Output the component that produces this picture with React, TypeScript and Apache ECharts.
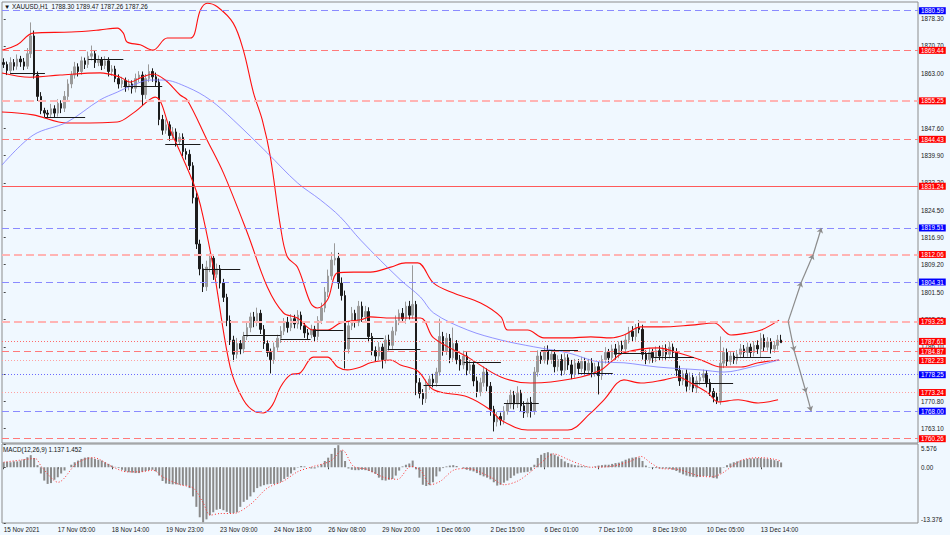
import { useEffect, useRef } from 'react';
import * as echarts from 'echarts';

// XAUUSD, one bar per two hours
const firstOpen = 1866.0;
const closes = [
  1865.5, 1863.8, 1866.0, 1865.0, 1867.0, 1866.2, 1865.0, 1868.5, 1873.5, 1862.5,
  1856.5, 1852.5, 1851.8, 1851.5, 1853.0, 1851.8, 1854.5, 1853.2, 1856.5, 1860.0,
  1862.5, 1864.8, 1863.5, 1866.5, 1865.5, 1867.8, 1868.5, 1866.0, 1866.8, 1865.2,
  1866.5, 1863.5, 1864.2, 1861.5, 1860.0, 1861.0, 1859.2, 1860.0, 1858.8, 1861.5,
  1862.5, 1857.0, 1861.5, 1863.5, 1862.0, 1860.5, 1850.0, 1847.0, 1848.5, 1845.5,
  1846.5, 1843.8, 1845.0, 1841.0, 1840.2, 1837.0, 1828.0, 1815.0, 1808.0, 1803.0,
  1808.5, 1811.0, 1806.5, 1808.0, 1804.0, 1800.0, 1793.5, 1788.0, 1784.0, 1787.0,
  1785.5, 1789.0, 1791.5, 1794.5, 1793.0, 1795.5, 1791.0, 1787.0, 1784.5, 1782.5,
  1786.0, 1788.5, 1790.5, 1793.0, 1791.5, 1794.0, 1792.5, 1795.0, 1792.0, 1790.0,
  1789.5, 1791.0, 1789.0, 1793.5, 1797.0, 1801.5, 1806.0, 1810.5, 1811.0, 1804.0,
  1800.5, 1785.5, 1792.0, 1795.5, 1793.0, 1797.5, 1794.5, 1796.0, 1789.0, 1785.0,
  1783.5, 1786.0, 1782.5, 1788.0, 1786.5, 1790.5, 1793.5, 1795.5, 1794.0, 1797.5,
  1795.0, 1798.0, 1776.0, 1773.0, 1771.5, 1775.5, 1777.0, 1776.0, 1779.0, 1789.0,
  1785.0, 1788.5, 1783.0, 1787.0, 1782.5, 1781.0, 1783.5, 1779.5, 1781.0, 1776.5,
  1773.5, 1776.0, 1779.0, 1775.0, 1768.5, 1765.0, 1766.5, 1765.5, 1768.0, 1770.0,
  1772.5, 1770.0, 1773.0, 1769.5, 1767.5, 1770.5, 1768.0, 1779.0, 1783.5, 1782.5,
  1785.0, 1782.5, 1784.0, 1780.5, 1782.5, 1779.5, 1783.0, 1781.0, 1778.5, 1781.5,
  1780.0, 1782.0, 1779.5, 1781.5, 1779.0, 1780.5, 1778.0, 1782.5, 1784.5, 1783.0,
  1785.5, 1784.0, 1786.5, 1785.5, 1788.0, 1790.5, 1789.0, 1791.5, 1791.0, 1784.0,
  1782.5, 1784.5, 1783.0, 1785.0, 1783.5, 1785.5, 1784.0, 1786.0, 1784.5, 1779.5,
  1776.5, 1778.5, 1775.0, 1777.5, 1774.5, 1776.5, 1777.5, 1778.5, 1776.0, 1773.5,
  1772.0, 1771.0, 1781.5, 1784.5, 1782.0, 1783.5, 1782.5, 1784.0, 1785.5, 1784.5,
  1786.0, 1784.5, 1786.5, 1785.5, 1788.5, 1786.0, 1787.5, 1785.5, 1786.5, 1788.0, 1787.26,
];
// wick lengths above / below the body
const wickUp = [
  1.2, 0.8, 1.5, 1.0, 1.3, 0.9, 1.1, 1.6, 3.8, 1.5,
  1.0, 1.2, 0.8, 0.9, 1.4, 1.0, 1.2, 0.9, 1.5, 1.3,
  1.1, 1.4, 1.0, 1.2, 0.9, 1.3, 2.3, 1.0, 1.2, 0.8,
  1.3, 1.0, 1.1, 0.9, 1.2, 1.0, 0.8, 1.3, 1.0, 1.4,
  1.1, 1.0, 1.3, 2.0, 0.9, 1.2, 1.0, 1.3, 1.5, 1.0,
  1.4, 1.0, 1.2, 1.1, 0.9, 1.3, 1.0, 1.5, 1.2, 1.4,
  1.8, 1.3, 1.0, 1.5, 1.1, 1.2, 1.0, 1.4, 1.2, 1.6,
  1.0, 1.3, 1.5, 1.2, 1.4, 1.6, 1.0, 1.2, 0.9, 1.1,
  1.3, 1.0, 1.4, 1.2, 1.5, 1.3, 1.1, 1.4, 1.0, 1.2,
  1.1, 1.3, 1.0, 1.2, 1.5, 1.4, 1.8, 2.2, 4.2, 1.5,
  1.6, 1.4, 1.2, 1.8, 1.0, 1.5, 1.3, 1.6, 1.2, 1.0,
  1.2, 1.4, 1.0, 1.3, 1.5, 1.2, 1.4, 1.1, 1.5, 1.3,
  1.5, 11.0, 1.0, 1.3, 1.2, 1.4, 1.0, 1.5, 1.2, 5.0,
  1.3, 1.5, 1.2, 4.5, 1.0, 1.3, 1.5, 1.1, 1.4, 1.0,
  1.2, 1.4, 1.6, 1.0, 1.2, 1.0, 1.3, 1.1, 1.4, 1.2,
  1.5, 1.2, 2.0, 1.0, 1.3, 1.1, 1.5, 1.4, 1.6, 1.2,
  1.3, 1.5, 1.1, 1.4, 1.2, 1.5, 1.3, 1.0, 1.4, 1.2,
  1.1, 1.3, 1.0, 1.2, 1.4, 1.1, 1.3, 1.2, 1.5, 1.0,
  1.2, 1.4, 1.1, 1.3, 1.5, 1.2, 1.4, 1.0, 2.0, 1.3,
  1.1, 1.3, 1.0, 1.2, 1.4, 1.1, 1.3, 1.5, 1.0, 1.2,
  1.3, 1.0, 1.2, 1.4, 1.1, 1.3, 1.5, 1.2, 1.0, 1.1,
  1.0, 1.2, 7.5, 1.4, 1.1, 1.3, 1.0, 1.2, 1.4, 1.1,
  1.3, 1.0, 1.2, 1.4, 1.5, 1.1, 1.3, 1.0, 1.2, 1.4, 1.47,
];
const wickDown = [
  1.0, 1.3, 0.9, 1.2, 1.0, 1.4, 1.1, 0.8, 1.2, 1.0,
  1.3, 1.0, 1.2, 1.2, 0.9, 1.3, 1.0, 1.4, 1.1, 1.0,
  1.2, 1.0, 1.4, 0.9, 1.3, 1.0, 1.2, 1.5, 1.0, 1.3,
  1.0, 1.4, 1.2, 1.0, 1.3, 1.1, 1.4, 1.0, 1.5, 1.2,
  1.0, 3.2, 1.2, 1.0, 1.4, 1.1, 1.6, 1.3, 1.0, 1.5,
  1.2, 1.4, 1.0, 1.3, 1.5, 1.2, 1.6, 1.4, 1.8, 1.5,
  1.2, 1.4, 1.6, 1.0, 1.5, 1.3, 1.6, 1.4, 2.0, 1.2,
  1.5, 1.2, 1.0, 1.3, 1.4, 1.1, 1.3, 1.5, 1.2, 3.9,
  1.2, 1.0, 1.3, 1.1, 1.4, 1.0, 1.2, 1.3, 1.1, 1.4,
  1.2, 1.0, 1.3, 1.1, 1.0, 1.2, 1.4, 1.1, 1.5, 1.6,
  1.4, 5.5, 1.3, 1.2, 1.5, 1.1, 1.4, 1.2, 1.6, 1.3,
  1.5, 1.2, 2.5, 1.1, 1.4, 1.0, 1.2, 1.3, 1.1, 1.4,
  1.2, 1.0, 3.5, 1.4, 1.7, 1.2, 1.5, 1.3, 1.1, 1.0,
  1.4, 1.2, 1.5, 1.1, 1.3, 1.6, 1.2, 1.4, 1.0, 1.5,
  1.6, 1.3, 1.1, 1.4, 1.8, 2.7, 1.3, 1.5, 1.2, 1.0,
  1.3, 1.5, 1.1, 1.6, 1.4, 1.2, 1.8, 1.0, 1.3, 1.2,
  1.1, 1.4, 1.2, 1.6, 1.3, 1.5, 1.2, 1.4, 1.5, 1.1,
  1.3, 1.1, 1.4, 1.2, 1.5, 1.3, 5.3, 1.2, 1.1, 1.4,
  1.2, 1.5, 1.1, 1.3, 1.2, 1.0, 1.4, 1.2, 1.1, 1.5,
  1.3, 1.1, 1.4, 1.2, 1.3, 1.1, 1.5, 1.2, 1.3, 1.6,
  1.4, 1.2, 1.5, 1.1, 1.3, 1.4, 1.2, 1.1, 1.3, 1.2,
  1.5, 1.0, 1.2, 1.4, 1.3, 1.1, 1.2, 1.3, 1.1, 1.4,
  1.2, 1.3, 1.1, 1.4, 2.5, 1.2, 1.0, 1.3, 1.1, 1.2, 0.0,
];
const lastBar = [1788.3, 1789.47, 1787.26, 1787.26];

// MACD(12,26,9) main line, drawn as histogram
const macdHist = [
  1.2, 1.3, 1.2, 1.4, 1.4, 1.6, 1.9, 2.4, 2.9, 2.2,
  0.5, -1.5, -3.2, -4.0, -3.8, -3.0, -2.4, -1.5, -0.8, 0.0,
  0.6, 1.2, 1.6, 2.0, 2.3, 2.4, 2.3, 2.0, 1.8, 1.6,
  1.2, 0.8, 0.4, 0.1, -0.2, -0.6, -1.0, -1.2, -1.3, -1.4,
  -1.4, -1.1, -0.9, -0.7, -0.6, -1.0, -2.0, -3.3, -3.9, -4.0,
  -4.1, -4.1, -4.2, -4.3, -4.4, -5.0, -7.0, -9.5, -12.0, -13.2,
  -12.5, -11.5, -10.8, -10.2, -10.0, -10.3, -10.7, -11.0, -11.0, -10.8,
  -9.5, -8.3, -7.8, -7.0, -6.0, -5.0, -4.6, -4.3, -4.1, -4.0,
  -4.0, -3.9, -3.5, -2.8, -2.3, -1.5, -0.7, -0.1, 0.3, 0.2,
  0.0, -0.3, -0.3, 0.2, 0.7, 1.5, 2.3, 3.2, 4.6, 5.3,
  4.0, 1.5, -0.3, -0.6, -0.7, -0.7, -0.6, -0.7, -0.9, -1.2,
  -1.6, -2.5, -3.1, -3.2, -3.0, -2.8, -2.0, -0.8, 0.2, 0.6,
  0.9, 1.6, -0.5, -2.5, -4.2, -4.5, -4.3, -3.6, -2.2, -1.0,
  -0.2, 0.2, 0.4, 0.5, 0.3, 0.0, -0.3, -0.6, -0.8, -1.0,
  -1.4, -1.9, -2.2, -2.5, -2.9, -3.6, -4.4, -4.2, -3.7, -3.2,
  -2.6, -2.0, -1.5, -1.3, -1.2, -1.1, -0.8, 0.6, 2.2, 3.0,
  3.4, 3.6, 3.3, 3.0, 2.6, 2.0, 1.4, 1.0, 0.7, 0.5,
  0.4, 0.3, 0.2, 0.1, 0.0, 0.2, 0.4, 0.5, 0.6, 0.6,
  0.8, 1.0, 1.1, 1.4, 1.8, 2.1, 2.3, 2.4, 2.3, 1.5,
  0.4, -0.1, -0.2, -0.2, -0.3, -0.3, -0.3, -0.4, -0.6, -0.9,
  -1.3, -1.7, -2.0, -2.2, -2.3, -2.4, -2.3, -2.1, -2.1, -2.3,
  -2.6, -2.7, -1.5, -0.1, 0.5, 0.9, 1.2, 1.4, 1.6, 1.8,
  2.0, 2.1, 2.1, 2.2, 2.2, 2.1, 2.0, 1.9, 1.7, 1.5, 1.137,
];
const macdLast = [1.137, 1.452];
// signal line as [bar index, value]
const macdSignal = [
  [0, 1.2], [4.8, 1.7], [9.3, 2.1], [11.3, 0.0], [16.1, -3.6], [21.7, 1.0], [26.5, 2.3],
  [32.4, 0.0], [36.5, -1.1], [40.4, -1.1], [44.2, -0.7], [47.2, -2.4], [52.2, -4.2],
  [56.1, -5.0], [59.0, -8.5], [61.1, -11.5], [64.1, -11.1], [67.9, -11.1], [73.0, -8.9],
  [78.0, -5.0], [82.8, -3.3], [86.9, -1.1], [90.8, 0.0], [96.7, 1.5], [100.2, 4.1],
  [103.5, 0.2], [107.6, -0.5], [112.4, -2.4], [116.5, -2.9], [120.4, 0.2], [123.3, -0.7],
  [126.3, -4.2], [129.3, -3.3], [133.1, -0.7], [137.3, -0.3], [144.1, -2.4], [148.0, -4.2],
  [152.1, -3.3], [155.9, -1.1], [158.9, 1.0], [162.7, 3.2], [166.9, 1.9], [170.8, 0.6],
  [173.7, 0.0], [179.6, 0.2], [185.6, 1.5], [188.5, 2.6], [191.5, 1.0], [194.5, -0.3],
  [199.5, -0.5], [205.4, -2.0], [209.3, -2.3], [212.2, -1.6], [216.1, 0.6], [219.0, 1.9],
  [224.1, 2.3], [228.1, 1.9], [230.0, 1.452],
];

// Bollinger bands and the long moving average, [bar index, price]
const bbUpper = [
  [-0.5, 1869.5], [4, 1871.0], [8.7, 1874.3], [20, 1874.6], [28.5, 1875.2], [33.6, 1875.7],
  [35.4, 1874.3], [36.5, 1871.8], [40.4, 1871.0], [44.2, 1869.5], [48.4, 1872.9], [55.2, 1872.9],
  [58.2, 1880.8], [60.2, 1882.7], [63.2, 1881.7], [67.9, 1877.1], [70.9, 1869.5], [73.9, 1857.5],
  [76.5, 1849.9], [78.9, 1839.5], [81.9, 1819.8], [83.9, 1811.4], [86.9, 1808.5], [90.8, 1798.4],
  [92.8, 1797.0], [95.8, 1799.3], [98.8, 1806.9], [103.5, 1807.1], [108.5, 1807.1], [114.5, 1808.5],
  [118.9, 1809.7], [122.5, 1809.7], [127.2, 1804.0], [133.1, 1801.2], [141.1, 1798.4], [147.1, 1794.5],
  [149.1, 1790.8], [155.0, 1790.8], [159.8, 1788.6], [166.9, 1788.6], [173.7, 1788.9], [179.6, 1788.6],
  [183.5, 1789.4], [188.5, 1791.7], [194.5, 1791.7], [203.3, 1792.2], [210.2, 1792.8], [215.2, 1789.4],
  [220.2, 1790.0], [224.1, 1790.8], [229.4, 1793.6],
];
const bbMiddle = [
  [-0.5, 1863.1], [7.8, 1861.9], [16.7, 1862.5], [28.5, 1863.1], [34.5, 1861.9], [37.4, 1860.5],
  [40.4, 1861.7], [44.2, 1862.8], [47.8, 1861.1], [52.2, 1856.9], [54.3, 1855.5], [60.2, 1844.2],
  [65.0, 1835.0], [72.1, 1818.1], [78.0, 1802.9], [82.8, 1795.6], [86.9, 1794.2], [91.6, 1790.8],
  [95.8, 1790.8], [99.6, 1792.8], [105.6, 1793.7], [108.5, 1794.5], [114.5, 1794.2], [123.3, 1794.2],
  [127.2, 1788.6], [137.3, 1783.2], [147.1, 1777.6], [155.9, 1775.9], [161.9, 1776.2], [170.8, 1777.6],
  [176.7, 1779.6], [179.6, 1781.8], [183.5, 1784.4], [193.6, 1785.8], [199.5, 1784.4], [206.3, 1782.4],
  [212.2, 1780.4], [218.2, 1780.4], [223.2, 1781.6], [229.4, 1782.4],
];
const bbLower = [
  [-0.5, 1852.1], [8.7, 1851.3], [18.8, 1849.0], [33.6, 1849.3], [38.3, 1851.8], [44.8, 1856.3],
  [49.3, 1847.0], [56.1, 1832.2], [58.2, 1825.9], [62.0, 1808.5], [67.0, 1780.4], [70.9, 1771.2],
  [74.5, 1767.8], [76.8, 1767.5], [79.5, 1769.7], [81.9, 1774.8], [84.8, 1778.2], [87.8, 1778.8],
  [91.6, 1783.2], [95.8, 1783.2], [98.8, 1780.4], [101.7, 1779.6], [105.6, 1780.4], [108.5, 1781.6],
  [114.5, 1782.4], [117.4, 1781.0], [122.5, 1779.3], [127.2, 1774.0], [137.3, 1772.0], [144.1, 1768.3],
  [147.1, 1765.5], [155.0, 1762.7], [166.9, 1762.7], [173.7, 1767.5], [177.6, 1771.2], [183.5, 1776.8],
  [188.5, 1775.9], [195.4, 1776.8], [199.5, 1777.6], [203.3, 1775.9], [208.4, 1773.1], [211.4, 1770.6],
  [217.3, 1771.2], [223.2, 1770.3], [229.1, 1771.2],
];
const maLong = [
  [-0.5, 1837.2], [8.7, 1845.6], [18.8, 1849.3], [28.5, 1855.5], [33.6, 1857.7], [38.3, 1859.7],
  [43.3, 1861.1], [47.2, 1861.1], [54.3, 1859.1], [61.1, 1855.5], [67.9, 1849.9], [78.0, 1840.6],
  [86.9, 1832.2], [93.7, 1827.4], [99.6, 1822.6], [105.6, 1816.1], [117.4, 1804.9], [123.3, 1800.1],
  [127.2, 1795.6], [137.3, 1790.8], [147.1, 1788.0], [156.8, 1786.1], [166.9, 1784.4], [176.7, 1781.8],
  [183.5, 1781.6], [193.6, 1780.4], [206.3, 1779.6], [213.1, 1779.0], [221.1, 1780.4], [229.4, 1782.4],
];

// daily open segments: [from bar, to bar, price]
const dayOpens = [
  [1.9, 12.2, 1863.1], [12.2, 24.1, 1850.7], [25.0, 35.4, 1867.0], [35.4, 46.9, 1859.4],
  [47.8, 58.2, 1843.1], [59.0, 70.0, 1807.9], [70.9, 81.9, 1789.4], [81.9, 90.8, 1788.3],
  [91.6, 100.5, 1790.8], [101.7, 112.4, 1788.6], [113.6, 123.3, 1785.5], [124.2, 135.2, 1775.4],
  [136.1, 147.1, 1781.8], [148.0, 158.3, 1770.3], [158.9, 169.9, 1785.2], [169.9, 180.2, 1778.8],
  [180.5, 192.4, 1784.4], [192.4, 204.2, 1783.2], [204.2, 215.8, 1775.9], [216.1, 227.0, 1783.2],
];

// projected paths
const projUp = [[232.1, 1793.25], [236.0, 1804.31], [239.5, 1812.06], [241.9, 1819.51]];
const projDown = [[232.1, 1793.25], [233.9, 1784.87], [237.4, 1773.24], [238.9, 1768.0]];

// horizontal levels
const levels = [1880.59, 1869.44, 1855.25, 1844.43, 1831.24, 1819.51, 1812.06, 1804.31,
  1793.25, 1787.61, 1784.87, 1782.23, 1778.25, 1773.24, 1768.0, 1760.26];
const levelKinds = ['blueDash', 'redDash', 'pinkDash', 'redDash', 'redSolid', 'blueDash', 'pinkDash', 'blueDash',
  'pinkDash', 'redDot', 'redDash', 'pinkDot', 'blueDot', 'pinkDot', 'blueDash', 'redDash'];

// price scale: tick marks, and the labels that are not hidden behind a level box
const yTicks = [1878.3, 1870.7, 1863.0, 1855.3, 1847.6, 1839.9, 1832.2, 1824.5, 1816.9, 1809.2,
  1801.5, 1793.8, 1786.1, 1778.4, 1770.8, 1763.1];
const yTickLabels = [1878.3, 1870.7, 1863.0, 1847.6, 1839.9, 1832.2, 1824.5, 1816.9, 1809.2,
  1801.5, 1793.8, 1786.1, 1770.8, 1763.1];
const macdTicks = [5.576, 0, -13.376];
const xTickLabels = ['15 Nov 2021', '17 Nov 05:00', '18 Nov 14:00', '19 Nov 23:00', '23 Nov 09:00',
  '24 Nov 18:00', '26 Nov 08:00', '29 Nov 20:00', '1 Dec 06:00', '2 Dec 15:00', '6 Dec 01:00',
  '7 Dec 10:00', '8 Dec 19:00', '10 Dec 05:00', '13 Dec 14:00'];

const SLOTS = 271;
const LABEL_STEP = 16;
const FONT = '"Liberation Sans", Arial, sans-serif';
const FS = 6.3;

const kindStyle: Record<string, { color: string; type: any; width: number; box: string }> = {
  blueDash: { color: '#8a8aff', type: [7, 4], width: 1, box: '#0000ff' },
  redDash: { color: '#ff7a7a', type: [7, 4], width: 1, box: '#ff0000' },
  pinkDash: { color: '#ffb4b4', type: [8, 4], width: 2, box: '#ff0000' },
  redSolid: { color: '#ff5a5a', type: 'solid', width: 1, box: '#ff0000' },
  redDot: { color: '#ff6a6a', type: [1, 2], width: 1, box: '#ff0000' },
  pinkDot: { color: '#ffa0a0', type: [1, 2], width: 1, box: '#ff0000' },
  blueDot: { color: '#6a6aff', type: [1, 2], width: 1, box: '#0000ff' },
};

export default function App() {
  const chartRef = useRef<HTMLDivElement>(null);

  useEffect(() => {
    if (!chartRef.current) return;
    const chart = echarts.init(chartRef.current, null, { renderer: 'svg' });

    const candles = closes.map((c, i) => {
      const o = i === 0 ? firstOpen : closes[i - 1];
      const lo = Math.min(o, c) - wickDown[i];
      const hi = Math.max(o, c) + wickUp[i];
      return [o, c, +lo.toFixed(2), +hi.toFixed(2)];
    });

    const isLabelled = (i: number) => i % LABEL_STEP === 0 && i / LABEL_STEP < xTickLabels.length;
    const cats = Array.from({ length: SLOTS }, (_, i) => (isLabelled(i) ? xTickLabels[i / LABEL_STEP] : ''));

    const levelLines = levels.map((v, i) => {
      const k = kindStyle[levelKinds[i]];
      return {
        yAxis: v,
        lineStyle: { color: k.color, type: k.type, width: k.width },
        label: {
          show: true,
          position: 'end',
          distance: 1,
          formatter: v.toFixed(2),
          color: '#ffffff',
          backgroundColor: k.box,
          padding: [1, 2, 0, 2],
          fontSize: FS,
          fontFamily: FONT,
        },
      };
    });

    const segments = dayOpens.map(([a, b, p]) => [{ coord: [a, p] }, { coord: [b, p] }]);
    const arrowSegs = (pts: number[][]) =>
      pts.slice(1).map((pt, i) => [{ coord: pts[i] }, { coord: pt }]);

    const bandLine = (name: string, data: number[][], color: string, width: number) => ({
      name,
      type: 'line',
      xAxisIndex: 2,
      yAxisIndex: 0,
      data,
      smooth: 0.35,
      showSymbol: false,
      silent: true,
      z: 4,
      lineStyle: { color, width },
    });

    const option = {
      animation: false,
      backgroundColor: '#f0f8ff',
      textStyle: { fontFamily: FONT },
      grid: [
        { left: 2, top: 2, width: 916, height: 441, show: true, borderColor: '#8c8c8c', borderWidth: 1 },
        { left: 2, top: 444, width: 916, height: 79, show: true, borderColor: '#8c8c8c', borderWidth: 1 },
      ],
      xAxis: [
        {
          type: 'category', gridIndex: 0, data: cats, boundaryGap: true,
          axisLine: { show: false }, axisTick: { show: false }, axisLabel: { show: false }, splitLine: { show: false },
        },
        {
          type: 'category', gridIndex: 1, data: cats, boundaryGap: true,
          axisLine: { show: false },
          axisTick: { show: true, interval: (i: number) => isLabelled(i), alignWithLabel: true, length: 2, lineStyle: { color: '#444' } },
          axisLabel: {
            interval: (i: number) => isLabelled(i),
            align: 'left', fontSize: FS, color: '#1a1a1a', margin: 3, fontFamily: FONT,
          },
          splitLine: { show: false },
        },
        { type: 'value', gridIndex: 0, min: -0.5, max: SLOTS - 0.5, show: false },
        { type: 'value', gridIndex: 1, min: -0.5, max: SLOTS - 0.5, show: false },
      ],
      yAxis: [
        {
          type: 'value', gridIndex: 0, position: 'right', min: 1759.05, max: 1883.04,
          splitLine: { show: false }, axisLine: { show: false },
          axisTick: { show: true, customValues: yTicks, length: 2, lineStyle: { color: '#444' } },
          axisLabel: {
            customValues: yTickLabels, formatter: (v: number) => v.toFixed(2),
            fontSize: FS, color: '#1a1a1a', margin: 3, fontFamily: FONT,
          },
        },
        {
          type: 'value', gridIndex: 1, position: 'right', min: macdTicks[2], max: macdTicks[0],
          splitLine: { show: false }, axisLine: { show: false },
          axisTick: { show: true, customValues: macdTicks, length: 2, lineStyle: { color: '#444' } },
          axisLabel: {
            customValues: macdTicks,
            formatter: (v: number) => {
              if (v > 1) return '{t|' + v.toFixed(3) + '}';
              if (v < -1) return '{b|' + v.toFixed(3) + '}';
              return v.toFixed(2);
            },
            rich: {
              t: { fontSize: FS, color: '#1a1a1a', padding: [8, 0, 0, 0], fontFamily: FONT },
              b: { fontSize: FS, color: '#1a1a1a', padding: [0, 0, 8, 0], fontFamily: FONT },
            },
            fontSize: FS, color: '#1a1a1a', margin: 3, fontFamily: FONT,
          },
        },
      ],
      graphic: [
        {
          type: 'text', left: 4, top: 3,
          style: {
            text: '\u25BC XAUUSD,H1  ' + lastBar.map((v) => v.toFixed(2)).join(' '),
            fontSize: FS, fill: '#111', fontFamily: FONT,
          },
        },
        {
          type: 'text', left: 3, top: 446,
          style: {
            text: 'MACD(12,26,9) ' + macdLast.map((v) => v.toFixed(3)).join(' '),
            fontSize: FS, fill: '#111', fontFamily: FONT,
          },
        },
      ],
      series: [
        {
          name: 'XAUUSD',
          type: 'candlestick',
          xAxisIndex: 0,
          yAxisIndex: 0,
          data: candles,
          barWidth: 2,
          silent: true,
          z: 3,
          itemStyle: {
            color: '#9a9a9a', color0: '#1c1c1c',
            borderColor: '#9a9a9a', borderColor0: '#1c1c1c', borderWidth: 1,
          },
          markLine: { symbol: ['none', 'none'], silent: true, data: levelLines },
        },
        bandLine('BB upper', bbUpper, '#ff1010', 1.1),
        bandLine('BB middle', bbMiddle, '#ff1010', 1.1),
        bandLine('BB lower', bbLower, '#ff1010', 1.1),
        {
          ...bandLine('MA', maLong, '#7a7aff', 0.8),
          markLine: {
            symbol: ['none', 'none'],
            silent: true,
            label: { show: false },
            lineStyle: { color: '#1a1a1a', type: 'solid', width: 1 },
            data: segments,
          },
        },
        {
          name: 'Projection',
          type: 'line',
          xAxisIndex: 2,
          yAxisIndex: 0,
          data: [projUp[0]],
          showSymbol: false,
          silent: true,
          z: 5,
          lineStyle: { width: 0 },
          markLine: {
            symbol: ['none', 'arrow'],
            symbolSize: 5,
            silent: true,
            label: { show: false },
            lineStyle: { color: '#8c8c8c', type: 'solid', width: 1.2 },
            data: [...arrowSegs(projUp), ...arrowSegs(projDown)],
          },
        },
        {
          name: 'MACD',
          type: 'bar',
          xAxisIndex: 1,
          yAxisIndex: 1,
          data: macdHist,
          barWidth: 2,
          silent: true,
          itemStyle: { color: '#8a8a8a' },
        },
        {
          name: 'Signal',
          type: 'line',
          xAxisIndex: 3,
          yAxisIndex: 1,
          data: macdSignal,
          smooth: 0.3,
          showSymbol: false,
          silent: true,
          z: 4,
          lineStyle: { color: '#ff3030', width: 1, type: [1, 2] },
        },
      ],
    };

    chart.setOption(option as any);

    return () => {
      chart.dispose();
    };
  }, []);

  return (
    <div
      ref={chartRef}
      style={{ position: 'fixed', left: 0, top: 0, width: 950, height: 535, background: '#f0f8ff' }}
    />
  );
}
